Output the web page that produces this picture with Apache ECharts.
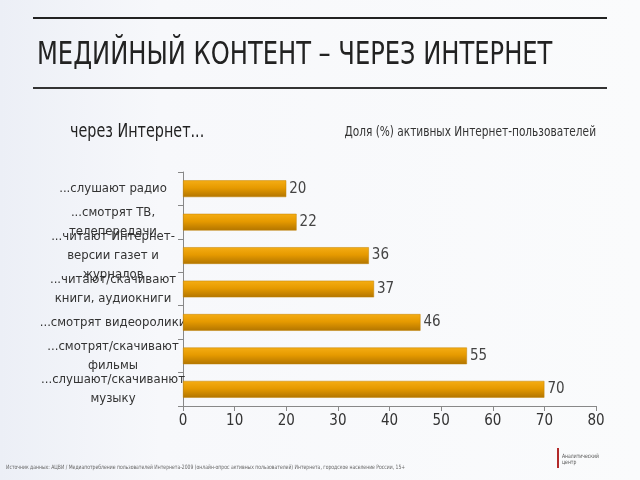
<!DOCTYPE html>
<html>
<head>
<meta charset="utf-8">
<script src="https://cdn.jsdelivr.net/npm/echarts@6/dist/echarts.min.js"></script>
<style>
  html, body { margin: 0; padding: 0; }
  body { background: linear-gradient(90deg, #eceff6 0%, #f7f8fb 25%, #fafbfc 100%); }
  #chart { width: 640px; height: 480px; }
</style>
</head>
<body>
<div id="chart"></div>
<script>
const categories = [
  '...слушают радио',
  '...смотрят ТВ,\nтелепередачи',
  '...читают Интернет-\nверсии газет и\nжурналов',
  '...читают/скачивают\nкниги, аудиокниги',
  '...смотрят видеоролики',
  '...смотрят/скачивают\nфильмы',
  '...слушают/скачиванют\nмузыку'
];
const shares = [20, 22, 36, 37, 46, 55, 70];
const xTicks = [0, 10, 20, 30, 40, 50, 60, 70, 80];

const titleText = 'МЕДИЙНЫЙ КОНТЕНТ – ЧЕРЕЗ ИНТЕРНЕТ';
const subtitleText = 'через Интернет...';
const unitText = 'Доля (%) активных Интернет-пользователей';
const sourceText = 'Источник данных: АЦВИ / Медиапотребление пользователей Интернета-2009 (онлайн-опрос активных пользователей) Интернета, городское население России, 15+';
const logoText = 'Аналитический\nцентр';

const font = '"DejaVu Sans Condensed", "DejaVu Sans", sans-serif';
const squeeze = 0.84; // у оригинала шрифт уже

function label(text, x, y, size, color, align) {
  return {
    type: 'text', x: x, y: y, scaleX: squeeze,
    style: {
      text: text, fontFamily: font, fontSize: size, fill: color,
      align: align || 'left', verticalAlign: 'middle'
    }
  };
}

const chart = echarts.init(document.getElementById('chart'));

const option = {
  backgroundColor: 'transparent',
  textStyle: { fontFamily: font },
  graphic: [
    { type: 'line', shape: { x1: 33, y1: 18, x2: 607, y2: 18 }, style: { stroke: '#222', lineWidth: 2 } },
    { type: 'line', shape: { x1: 33, y1: 88, x2: 607, y2: 88 }, style: { stroke: '#333', lineWidth: 2 } },
    label(titleText, 37, 56, 32, '#222'),
    label(subtitleText, 70, 132, 19, '#222'),
    label(unitText, 596, 132, 14, '#333', 'right'),
    label(sourceText, 6, 467, 6, '#666'),
    { type: 'rect', shape: { x: 557, y: 448, width: 2, height: 20 }, style: { fill: '#b22a2a' } },
    label(logoText, 562, 459, 6, '#555')
  ],
  grid: { left: 183, right: 44, top: 172, bottom: 74 },
  xAxis: {
    type: 'value',
    min: 0, max: 80, interval: 10,
    axisLine: { show: true, lineStyle: { color: '#888' } },
    axisTick: { show: true, length: 5, lineStyle: { color: '#888' } },
    splitLine: { show: false },
    axisLabel: {
      fontFamily: font, fontSize: 15, color: '#333', margin: 8,
      formatter: v => (xTicks.indexOf(v) >= 0 ? String(v) : '')
    }
  },
  yAxis: {
    type: 'category',
    inverse: true,
    data: categories,
    axisLine: { show: true, lineStyle: { color: '#888' } },
    axisTick: { show: true, length: 5, lineStyle: { color: '#888' } },
    axisLabel: {
      interval: 0,
      fontFamily: font, fontSize: 13, color: '#333',
      align: 'center', lineHeight: 19,
      margin: 70
    }
  },
  series: [{
    type: 'bar',
    data: shares,
    barWidth: '50%',
    itemStyle: {
      color: new echarts.graphic.LinearGradient(0, 0, 0, 1, [
        { offset: 0, color: '#f5ad14' },
        { offset: 0.45, color: '#e69a00' },
        { offset: 1, color: '#b27500' }
      ]),
      borderColor: '#c08000',
      borderWidth: 0.5
    },
    label: {
      show: true, position: 'right', distance: 3,
      fontFamily: font, fontSize: 15, color: '#444'
    }
  }]
};

chart.setOption(option);
</script>
</body>
</html>
